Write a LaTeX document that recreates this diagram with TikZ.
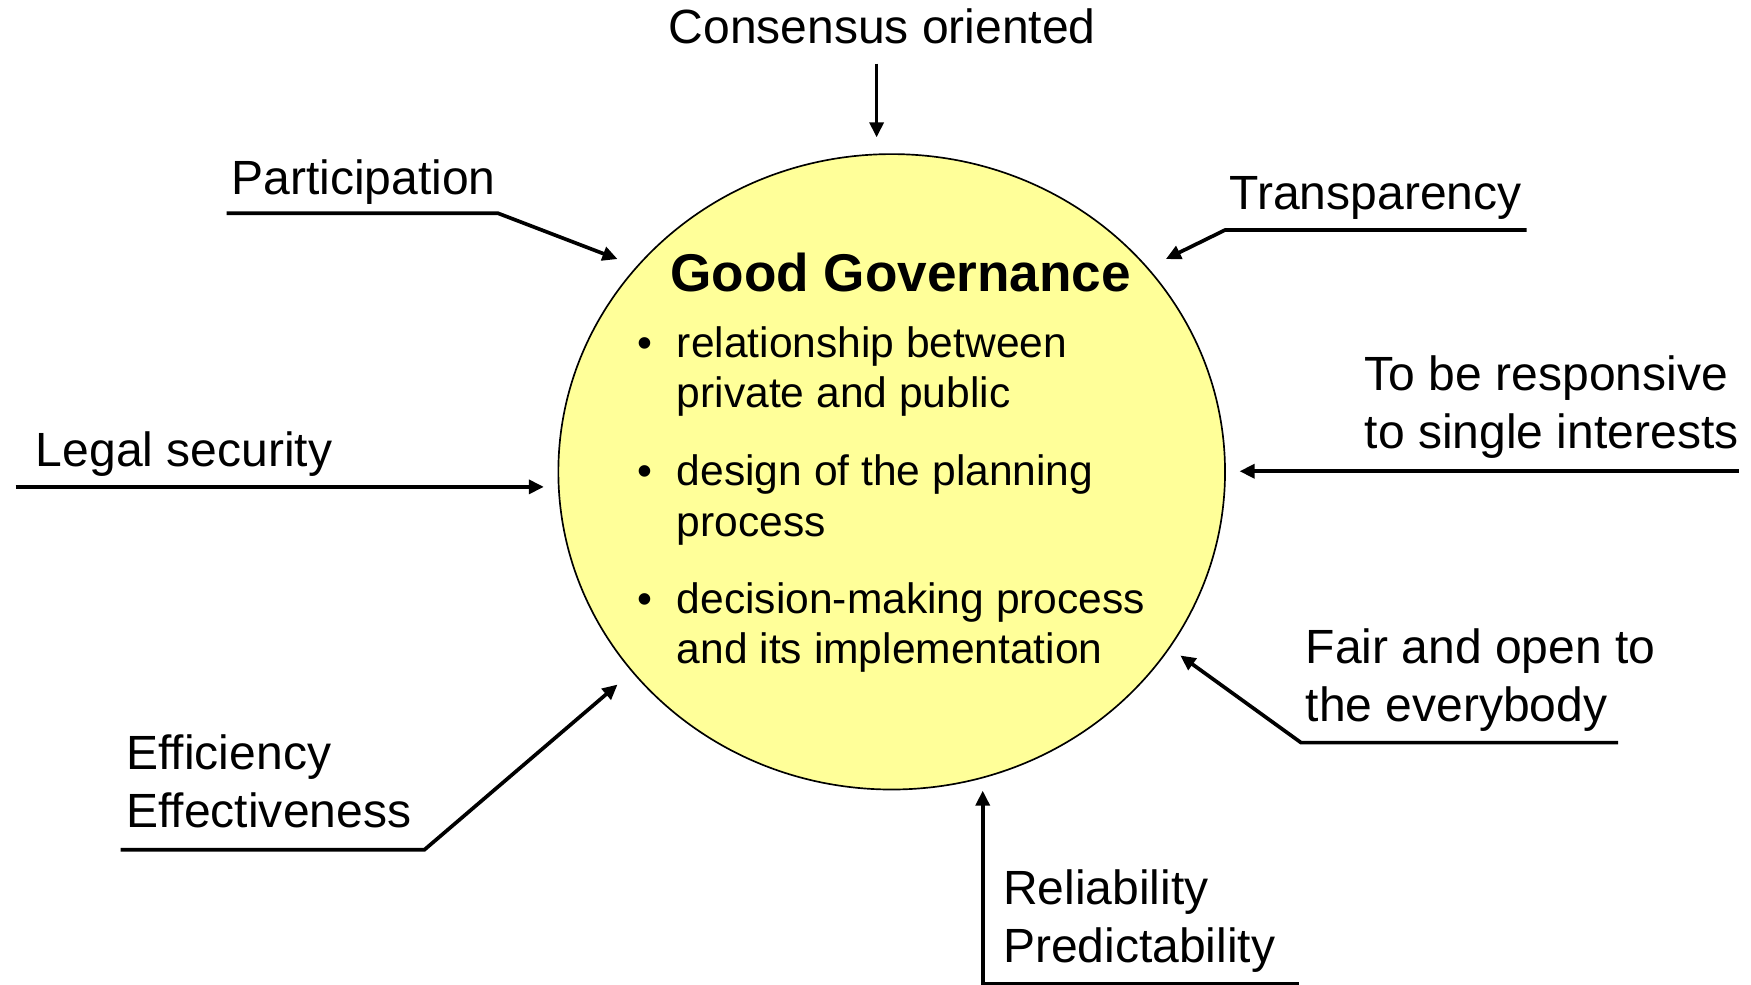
\documentclass[tikz,border=0pt]{standalone}
\usepackage{fontspec}
\setmainfont{Liberation Sans}
\usetikzlibrary{arrows.meta,shapes.geometric}
\definecolor{gglight}{HTML}{FFFF99}
\tikzset{
  lbl/.style={anchor=base west, inner sep=0pt, font=\fontsize{43}{52}\selectfont},
  blt/.style={anchor=base west, inner sep=0pt, font=\fontsize{38.1}{45}\selectfont},
  conn/.style={line width=3.3pt, -{Triangle[length=13.5pt,width=12.5pt]}}
}
\newcommand{\twoline}[2]{\begin{tabular}[t]{@{}l@{}}#1\\#2\end{tabular}}
\newcommand{\bitem}[2]{\begin{tabular}[t]{@{}l@{}l@{}}\makebox[35pt][l]{\textbullet}&#1\\&#2\end{tabular}}
\begin{document}
\begin{tikzpicture}[x=1pt,y=-1pt]
\useasboundingbox (0,0) rectangle (1568,882);
\fill[white] (0,0) rectangle (1568,882);
% central circle
\node[ellipse, draw=black, line width=1.5pt, fill=gglight, minimum width=597pt, minimum height=569pt, inner sep=0pt] (gg) at (798.5,422.5) {};
\node[anchor=base west, inner sep=0pt, font=\fontsize{47.6}{56}\selectfont\bfseries] (title) at (600,261) {Good Governance};
\node[blt] (b1) at (571,320) {\bitem{relationship between}{private and public}};
\node[blt] (b2) at (571,435) {\bitem{design of the planning}{process}};
\node[blt] (b3) at (571,549) {\bitem{decision-making process}{and its implementation}};

% labels
\node[lbl, anchor=base] (cons) at (790,39) {Consensus oriented};
\node[lbl] (part) at (207,174) {Participation};
\node[lbl] (trans) at (1101,188) {Transparency};
\node[lbl] (legal) at (32,418) {Legal security};
\node[lbl] (resp) at (1222,350) {\twoline{To be responsive}{to single interests}};
\node[lbl] (fair) at (1169,594) {\twoline{Fair and open to}{the everybody}};
\node[lbl] (eff) at (113,689) {\twoline{Efficiency}{Effectiveness}};
\node[lbl] (rel) at (898,810) {\twoline{Reliability}{Predictability}};

% connector coordinates
\coordinate (consS) at (785,57);   \coordinate (consT) at (785,123);
\coordinate (partS) at (203,191);  \coordinate (partC) at (446,191);  \coordinate (partT) at (553,232);
\coordinate (transS) at (1367,206);\coordinate (transC) at (1097,206);\coordinate (transT) at (1044,232);
\coordinate (legalS) at (14,436);  \coordinate (legalT) at (487,436);
\coordinate (respS) at (1557,422); \coordinate (respT) at (1110,422);
\coordinate (fairS) at (1449,665); \coordinate (fairC) at (1165,665); \coordinate (fairT) at (1057,587);
\coordinate (effS) at (108,761);   \coordinate (effC) at (380,761);   \coordinate (effT) at (553,613);
\coordinate (relS) at (1163,881);  \coordinate (relC) at (880,881);   \coordinate (relT) at (880,708);

\draw[conn] (consS) -- (consT);
\draw[conn] (partS) -- (partC) -- (partT);
\draw[conn] (transS) -- (transC) -- (transT);
\draw[conn] (legalS) -- (legalT);
\draw[conn] (respS) -- (respT);
\draw[conn] (fairS) -- (fairC) -- (fairT);
\draw[conn] (effS) -- (effC) -- (effT);
\draw[conn] (relS) -- (relC) -- (relT);
\end{tikzpicture}
\end{document}
